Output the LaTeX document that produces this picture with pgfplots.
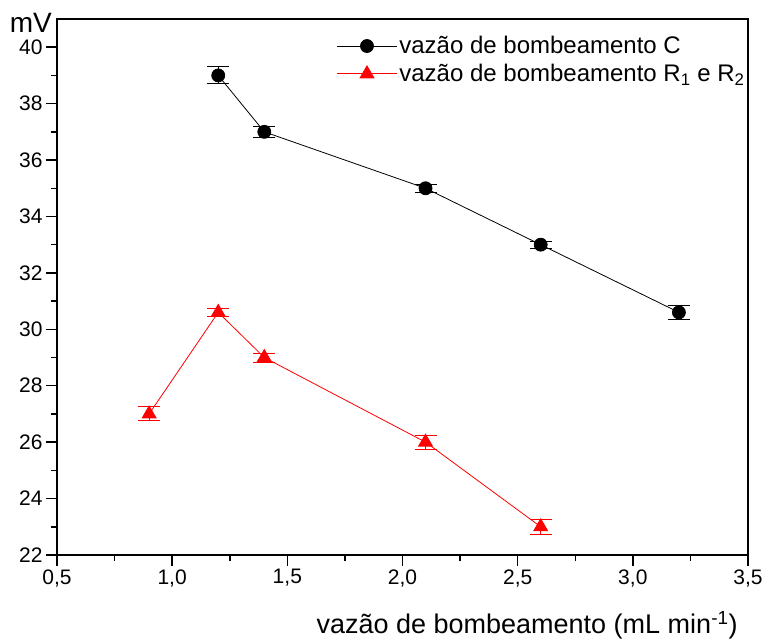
\documentclass[border=0pt]{standalone}
\usepackage{fontspec}
\setmainfont{Liberation Sans}
\usepackage{pgfplots}
\pgfplotsset{compat=1.18}
\usetikzlibrary{calc}
\begin{document}
\begin{tikzpicture}
\begin{axis}[
  scale only axis, width=691bp, height=536bp,
  xmin=0.5, xmax=3.5, ymin=22, ymax=41,
  xtick={0.5,1.0,1.5,2.0,2.5,3.0,3.5},
  minor xtick={0.75,1.25,1.75,2.25,2.75,3.25},
  ytick={22,24,26,28,30,32,34,36,38,40},
  minor ytick={23,25,27,29,31,33,35,37,39},
  xtick pos=bottom, ytick pos=left, tick align=outside,
  tickwidth=11bp, subtickwidth=6bp,
  major tick length=11bp, minor tick length=6bp,
  major tick style={draw=black, line width=1.5bp},
  minor tick style={draw=black, line width=1.5bp},
  axis line style={line width=1.2bp},
  /pgf/number format/assume math mode=true,
  tick label style={font=\fontsize{21bp}{25bp}\selectfont},
  x tick label style={/pgf/number format/.cd, use comma, fixed, fixed zerofill, precision=1, /tikz/.cd},
  y tick label style={/pgf/number format/.cd, fixed, precision=0, /tikz/.cd},
  xlabel={vazão de bombeamento (mL min\textsuperscript{-1})},
  xlabel style={at={(rel axis cs:0.99,0)}, anchor=base east, yshift=-78bp, font=\fontsize{27bp}{31bp}\selectfont},
  legend style={at={(rel axis cs:0.40,0.975)}, anchor=north west, draw=none, fill=none,
    font=\fontsize{24bp}{28bp}\selectfont, row sep=5bp},
  legend cell align=left,
  legend image code/.code={\draw[mark repeat=2,mark phase=2] plot coordinates {(0bp,0bp) (30bp,0bp) (60bp,0bp)};},
]
\addplot[black, line width=0.8bp, mark=*, mark size=6.5bp, mark options={solid, fill=black},
  error bars/.cd, y dir=both, y explicit, error mark=|,
  error bar style={line width=1bp, black},
  error mark options={black, mark size=11bp, line width=1bp}]
  coordinates {
    (1.2,39.0) +- (0,0.30)
    (1.4,37.0) +- (0,0.20)
    (2.1,35.0) +- (0,0.15)
    (2.6,33.0) +- (0,0.12)
    (3.2,30.6) +- (0,0.25)
  };
\addlegendentry{vazão de bombeamento C}
\addplot[red, line width=0.8bp, mark=triangle*, mark size=8bp, mark options={solid, fill=red},
  error bars/.cd, y dir=both, y explicit, error mark=|,
  error bar style={line width=1bp, red},
  error mark options={red, mark size=11bp, line width=1bp}]
  coordinates {
    (0.9,27.0) +- (0,0.25)
    (1.2,30.6) +- (0,0.13)
    (1.4,29.0) +- (0,0.16)
    (2.1,26.0) +- (0,0.25)
    (2.6,23.0) +- (0,0.26)
  };
\addlegendentry{vazão de bombeamento R\textsubscript{1} e R\textsubscript{2}}
\end{axis}
\node[anchor=base east, font=\fontsize{28bp}{32bp}\selectfont, inner sep=0pt]
  at ($(current axis.north west)+(-5bp,-14bp)$) {mV};
\pgfresetboundingbox
\useasboundingbox ($(current axis.south west)+(-57bp,-86bp)$) rectangle ($(current axis.north east)+(17bp,19bp)$);
\end{tikzpicture}
\end{document}
